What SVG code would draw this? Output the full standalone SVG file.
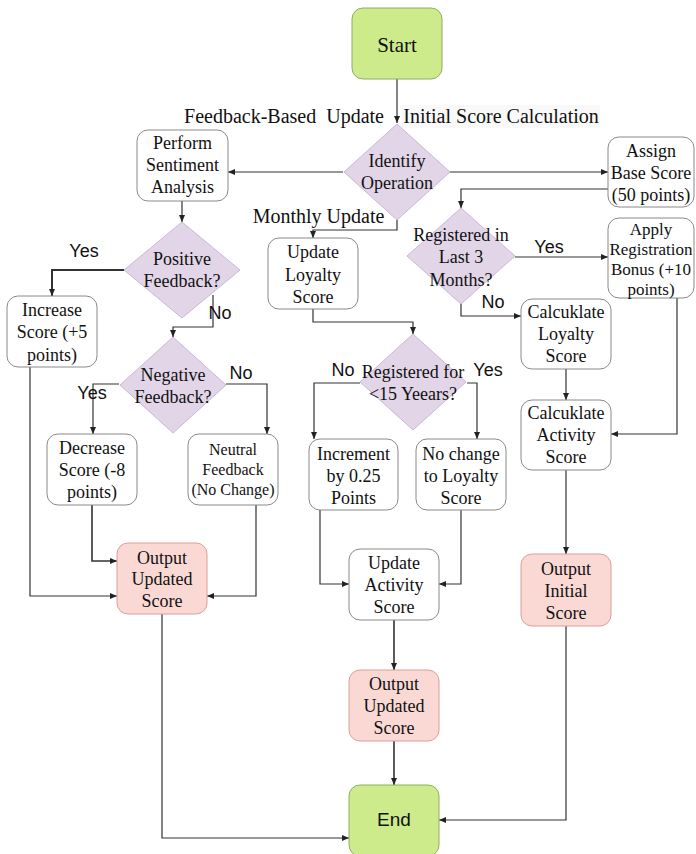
<svg xmlns="http://www.w3.org/2000/svg" width="696" height="854" viewBox="0 0 696 854">
<style>
.n{fill:#fff;stroke:#8a8a8a;stroke-width:1}
.g{fill:#cdeb8b;stroke:#8fae64;stroke-width:1}
.p{fill:#fad9d5;stroke:#dd9e96;stroke-width:1}
.d{fill:#e1d5e7;stroke:#cbb8d8;stroke-width:1}
.t{font-family:"Liberation Serif","Times New Roman",serif;font-size:18px;fill:#111;text-anchor:middle}
.l{font-family:"Liberation Serif","Times New Roman",serif;font-size:20px;fill:#111;text-anchor:middle;white-space:pre}
.s{font-family:"Liberation Sans",Arial,sans-serif;font-size:18px;fill:#111;text-anchor:middle}
.c path{fill:none;stroke:#333;stroke-width:1.2}
</style>
<defs>
<marker id="a" markerWidth="7" markerHeight="6" refX="7" refY="3" orient="auto" markerUnits="userSpaceOnUse">
<path d="M0,0 L7,3 L0,6 Z" fill="#222"/>
</marker>
</defs>
<g class="c">
<path d="M397,79 V123" marker-end="url(#a)"/>
<path d="M343,172 H228" marker-end="url(#a)"/>
<path d="M449,172 H608" marker-end="url(#a)"/>
<path d="M397,220 V230 H313 V238" marker-end="url(#a)"/>
<path d="M608,189 H461 V208" marker-end="url(#a)"/>
<path d="M515,257 H608" marker-end="url(#a)"/>
<path d="M461,304 V316 H521" marker-end="url(#a)"/>
<path d="M566,369 V400" marker-end="url(#a)"/>
<path d="M677,298 V434 H611" marker-end="url(#a)"/>
<path d="M566,470 V554" marker-end="url(#a)"/>
<path d="M566,626 V820 H439" marker-end="url(#a)"/>
<path d="M182,201 V222" marker-end="url(#a)"/>
<path d="M124,270 H52 V296" marker-end="url(#a)" style="stroke-width:2"/>
<path d="M213,295 V327 H173 V337" marker-end="url(#a)"/>
<path d="M119,384 H93 V434" marker-end="url(#a)"/>
<path d="M226,384 H267 V434" marker-end="url(#a)"/>
<path d="M92,505 V561 H117" marker-end="url(#a)" style="stroke-width:1.6"/>
<path d="M30,367 V596 H117" marker-end="url(#a)"/>
<path d="M256,505 V596 H207" marker-end="url(#a)"/>
<path d="M162,614 V838 H349" marker-end="url(#a)"/>
<path d="M313,309 V322 H413 V334" marker-end="url(#a)"/>
<path d="M360,383 H314 V439" marker-end="url(#a)"/>
<path d="M467,383 H477 V439" marker-end="url(#a)"/>
<path d="M320,510 V584 H349" marker-end="url(#a)"/>
<path d="M461,510 V584 H439" marker-end="url(#a)"/>
<path d="M394,620 V670" marker-end="url(#a)" style="stroke-width:1.6"/>
<path d="M394,741 V785" marker-end="url(#a)" style="stroke-width:1.6"/>
</g>
<g id="labels">
<text class="l" x="284" y="123" xml:space="preserve">Feedback-Based  Update</text>
<rect x="402" y="105" width="198" height="23" fill="#f9f9f9"/>
<text class="l" x="501" y="123">Initial Score Calculation</text>
<text class="l" x="318.5" y="223">Monthly Update</text>
<text class="s" x="84" y="257">Yes</text>
<text class="s" x="220" y="319">No</text>
<text class="s" x="92" y="399">Yes</text>
<text class="s" x="241" y="379">No</text>
<text class="s" x="343" y="376">No</text>
<text class="s" x="488" y="376">Yes</text>
<text class="s" x="549" y="253">Yes</text>
<text class="s" x="493" y="308">No</text>
</g>
<g id="start"><rect class="g" x="352" y="8" width="90" height="71" rx="11"/><text class="t" x="397" y="52" style="font-size:21px">Start</text></g>
<g id="identify"><polygon class="d" points="397,124 450,172 397,220 344,172"/><text class="t" x="397" y="167">Identify</text><text class="t" x="397" y="189">Operation</text></g>
<g id="perform"><rect class="n" x="137" y="130" width="91" height="71" rx="11"/><text class="t" x="182.5" y="149">Perform</text><text class="t" x="182.5" y="171">Sentiment</text><text class="t" x="182.5" y="193">Analysis</text></g>
<g id="assign"><rect class="n" x="608" y="137" width="86" height="70" rx="11"/><text class="t" x="651" y="157">Assign</text><text class="t" x="651" y="179">Base Score</text><text class="t" x="651" y="201">(50 points)</text></g>
<g id="regin"><polygon class="d" points="461,208 515,256 461,304 407,256"/><text class="t" x="461" y="241">Registered in</text><text class="t" x="461" y="263">Last 3</text><text class="t" x="461" y="286">Months?</text></g>
<g id="apply"><rect class="n" x="608" y="218" width="86" height="80" rx="11"/><text class="t" x="651" y="235" style="font-size:17px">Apply</text><text class="t" x="651" y="255" style="font-size:17px">Registration</text><text class="t" x="651" y="275" style="font-size:17px">Bonus (+10</text><text class="t" x="651" y="295" style="font-size:17px">points)</text></g>
<g id="calcloyalty"><rect class="n" x="521" y="299" width="90" height="70" rx="11"/><text class="t" x="566" y="318">Calcuklate</text><text class="t" x="566" y="340">Loyalty</text><text class="t" x="566" y="362">Score</text></g>
<g id="calcactivity"><rect class="n" x="521" y="400" width="90" height="70" rx="11"/><text class="t" x="566" y="419">Calcuklate</text><text class="t" x="566" y="441">Activity</text><text class="t" x="566" y="463">Score</text></g>
<g id="outinitial"><rect class="p" x="521" y="554" width="90" height="72" rx="11"/><text class="t" x="566" y="575">Output</text><text class="t" x="566" y="597">Initial</text><text class="t" x="566" y="619">Score</text></g>
<g id="updloyalty"><rect class="n" x="268" y="238" width="90" height="71" rx="11"/><text class="t" x="313" y="258">Update</text><text class="t" x="313" y="281">Loyalty</text><text class="t" x="313" y="303">Score</text></g>
<g id="regfor"><polygon class="d" points="413,334 466,382 413,430 360,382"/><text class="t" x="413" y="378">Registered for</text><text class="t" x="413" y="400">&lt;15 Yeears?</text></g>
<g id="increment"><rect class="n" x="309" y="439" width="89" height="71" rx="11"/><text class="t" x="353.5" y="460">Increment</text><text class="t" x="353.5" y="482">by 0.25</text><text class="t" x="353.5" y="504">Points</text></g>
<g id="nochange"><rect class="n" x="416" y="439" width="90" height="71" rx="11"/><text class="t" x="461" y="460">No change</text><text class="t" x="461" y="482">to Loyalty</text><text class="t" x="461" y="504">Score</text></g>
<g id="updactivity"><rect class="n" x="349" y="549" width="90" height="71" rx="11"/><text class="t" x="394" y="569">Update</text><text class="t" x="394" y="591">Activity</text><text class="t" x="394" y="613">Score</text></g>
<g id="outmid"><rect class="p" x="349" y="670" width="90" height="71" rx="11"/><text class="t" x="394" y="690">Output</text><text class="t" x="394" y="712">Updated</text><text class="t" x="394" y="734">Score</text></g>
<g id="end"><rect class="g" x="349" y="785" width="90" height="71" rx="11"/><text class="s" x="394" y="826" style="font-size:19px">End</text></g>
<g id="positive"><polygon class="d" points="182,222 240,270 182,318 124,270"/><text class="t" x="182" y="265">Positive</text><text class="t" x="182" y="287">Feedback?</text></g>
<g id="increase"><rect class="n" x="7" y="296" width="90" height="71" rx="11"/><text class="t" x="52" y="316">Increase</text><text class="t" x="52" y="338">Score (+5</text><text class="t" x="52" y="361">points)</text></g>
<g id="negative"><polygon class="d" points="173,337 226,385 173,433 120,385"/><text class="t" x="173" y="381">Negative</text><text class="t" x="173" y="403">Feedback?</text></g>
<g id="decrease"><rect class="n" x="47" y="434" width="90" height="71" rx="11"/><text class="t" x="92" y="454">Decrease</text><text class="t" x="92" y="476">Score (-8</text><text class="t" x="92" y="498">points)</text></g>
<g id="neutral"><rect class="n" x="188" y="434" width="90" height="71" rx="11"/><text class="t" x="233" y="455" style="font-size:16px">Neutral</text><text class="t" x="233" y="475" style="font-size:16px">Feedback</text><text class="t" x="233" y="495" style="font-size:16px">(No Change)</text></g>
<g id="outleft"><rect class="p" x="117" y="543" width="90" height="71" rx="11"/><text class="t" x="162" y="564">Output</text><text class="t" x="162" y="585">Updated</text><text class="t" x="162" y="607">Score</text></g>
</svg>
